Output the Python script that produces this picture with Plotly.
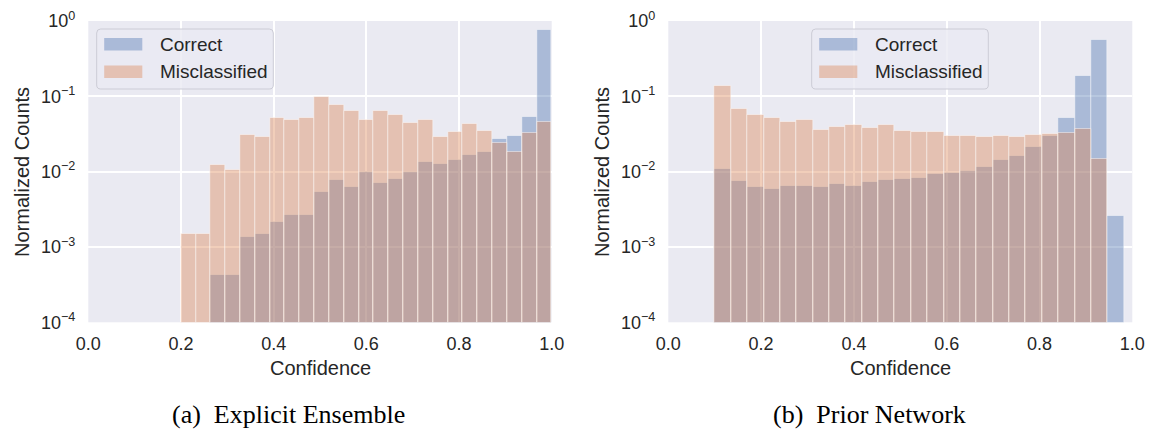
import numpy as np
import plotly.graph_objects as go

# ---- data -------------------------------------------------------------
# histogram bin grids over confidence
ens_edges = np.linspace(0.2, 1.0, 26)
pn_edges = np.linspace(0.1, 0.982, 26)

# (a) Explicit Ensemble: normalized counts per bin
ens_correct = [None, None, 4.2e-4, 4.2e-4, 1.37e-3, 1.49e-3, 2.13e-3, 2.66e-3,
               2.66e-3, 5.43e-3, 7.75e-3, 6.32e-3, 9.9e-3, 7.08e-3, 8.0e-3,
               1.0e-2, 1.34e-2, 1.25e-2, 1.43e-2, 1.66e-2, 1.84e-2, 2.69e-2,
               2.97e-2, 5.32e-2, 0.76]
ens_miscl = [1.49e-3, 1.49e-3, 1.23e-2, 1.05e-2, 3.07e-2, 2.92e-2, 5.21e-2,
             4.85e-2, 5.21e-2, 9.7e-2, 7.67e-2, 6.39e-2, 4.85e-2, 6.39e-2,
             5.65e-2, 4.38e-2, 4.85e-2, 2.92e-2, 3.36e-2, 4.29e-2, 3.5e-2,
             2.43e-2, 1.84e-2, 3.23e-2, 4.61e-2]

# (b) Prior Network: normalized counts per bin
pn_correct = [1.07e-2, 7.6e-3, 6.32e-3, 5.95e-3, 6.45e-3, 6.45e-3, 6.32e-3,
              6.86e-3, 6.45e-3, 7.3e-3, 7.67e-3, 8.07e-3, 8.32e-3, 9.22e-3,
              9.7e-3, 1.01e-2, 1.15e-2, 1.43e-2, 1.61e-2, 2.1e-2, 2.97e-2,
              5.1e-2, 0.184, 0.554, 2.6e-3]
pn_miscl = [0.137, 6.79e-2, 5.6e-2, 5.16e-2, 4.56e-2, 4.85e-2, 3.57e-2,
            3.96e-2, 4.21e-2, 3.8e-2, 4.12e-2, 3.47e-2, 3.36e-2, 3.36e-2,
            2.97e-2, 3.01e-2, 2.89e-2, 2.94e-2, 2.89e-2, 3.07e-2, 3.13e-2,
            3.3e-2, 3.65e-2, 1.47e-2, None]

series_names = ["Correct", "Misclassified"]
x_ticks = [0.0, 0.2, 0.4, 0.6, 0.8, 1.0]
y_ticks = [1e-4, 1e-3, 1e-2, 1e-1, 1e0]
y_ticktext = ["10<sup>\u22124</sup>", "10<sup>\u22123</sup>", "10<sup>\u22122</sup>",
              "10<sup>\u22121</sup>", "10<sup>0</sup>"]
captions = ["(a)\u2002Explicit Ensemble", "(b)\u2002Prior Network"]

# ---- style ------------------------------------------------------------
W, H = 1153, 432
BG = "#EAEAF2"
TXT = "rgb(38,38,38)"
SANS = "Liberation Sans, Arial, sans-serif"
SERIF = "Liberation Serif, Times New Roman, serif"
C_BLUE = "rgba(76,114,176,0.4)"
C_ORANGE = "rgba(221,132,82,0.4)"
EDGE = "rgba(255,255,255,0.45)"

# plot areas in pixels: (left, right), shared (top, bottom)
panels = [(88.3, 551.7), (668.3, 1132.3)]
top_px, bot_px = 21.0, 322.3
caption_cx = [288, 869.5]


def fx(p):
    return p / W


def fy(p):
    return 1 - p / H


fig = go.Figure()


def add_hist(edges, values, color, name, xa, ya):
    edges = np.asarray(edges)
    centers = (edges[:-1] + edges[1:]) / 2
    widths = np.diff(edges)
    fig.add_trace(go.Bar(
        x=centers, y=values, width=widths, name=name,
        marker=dict(color=color, line=dict(color=EDGE, width=1)),
        xaxis=xa, yaxis=ya, showlegend=False,
    ))


add_hist(ens_edges, ens_correct, C_BLUE, series_names[0], "x", "y")
add_hist(ens_edges, ens_miscl, C_ORANGE, series_names[1], "x", "y")
add_hist(pn_edges, pn_correct, C_BLUE, series_names[0], "x2", "y2")
add_hist(pn_edges, pn_miscl, C_ORANGE, series_names[1], "x2", "y2")

axis_common = dict(showline=False, zeroline=False, gridcolor="white",
                   gridwidth=1.5, ticks="", automargin=False)

for i, (l, r) in enumerate(panels):
    sfx = "" if i == 0 else str(i + 1)
    fig.layout["xaxis" + sfx] = dict(
        axis_common, domain=[fx(l), fx(r)], range=[0, 1],
        tickvals=x_ticks, ticktext=[f"{v:.1f}" for v in x_ticks],
        anchor="y" + sfx, ticklabelstandoff=9,
        tickfont=dict(family=SANS, size=18, color=TXT),
    )
    fig.layout["yaxis" + sfx] = dict(
        axis_common, domain=[fy(bot_px), fy(top_px)], type="log", range=[-4, 0],
        tickvals=y_ticks, ticktext=y_ticktext, anchor="x" + sfx,
        ticklabelstandoff=12,
        tickfont=dict(family=SANS, size=18, color=TXT),
    )

annotations = []
shapes = []

for i, (l, r) in enumerate(panels):
    # axis titles
    annotations.append(dict(
        text="Confidence", x=fx((l + r) / 2), y=fy(367.5), xref="paper", yref="paper",
        showarrow=False, xanchor="center", yanchor="middle",
        font=dict(family=SANS, size=20, color=TXT)))
    annotations.append(dict(
        text="Normalized Counts", x=fx(l - 67), y=fy((top_px + bot_px) / 2),
        xref="paper", yref="paper", showarrow=False, textangle=-90,
        xanchor="center", yanchor="middle",
        font=dict(family=SANS, size=20, color=TXT)))

# sub-figure captions
for cap, cx in zip(captions, caption_cx):
    annotations.append(dict(
        text=cap, x=fx(cx), y=fy(414.5), xref="paper", yref="paper",
        showarrow=False, xanchor="center", yanchor="middle",
        font=dict(family=SERIF, size=26, color="black")))


def rounded_rect(x0, y0, x1, y1, r):
    """SVG path (paper coords) of a rounded rectangle given in pixels."""
    X = lambda v: f"{fx(v):.6f}"
    Y = lambda v: f"{fy(v):.6f}"
    pts = [
        f"M {X(x0 + r)},{Y(y0)}",
        f"L {X(x1 - r)},{Y(y0)}",
        f"Q {X(x1)},{Y(y0)} {X(x1)},{Y(y0 + r)}",
        f"L {X(x1)},{Y(y1 - r)}",
        f"Q {X(x1)},{Y(y1)} {X(x1 - r)},{Y(y1)}",
        f"L {X(x0 + r)},{Y(y1)}",
        f"Q {X(x0)},{Y(y1)} {X(x0)},{Y(y1 - r)}",
        f"L {X(x0)},{Y(y0 + r)}",
        f"Q {X(x0)},{Y(y0)} {X(x0 + r)},{Y(y0)} Z",
    ]
    return " ".join(pts)


# legend boxes: upper left on (a), upper center on (b)
legend_left = [96.7, 811.7]
for lx in legend_left:
    shapes.append(dict(type="path", path=rounded_rect(lx, 29, lx + 176.6, 89, 4),
                       xref="paper", yref="paper",
                       fillcolor="rgba(234,234,242,0.8)",
                       line=dict(color="rgba(204,204,214,1)", width=1)))
    for j, (name, col) in enumerate(zip(series_names, [C_BLUE, C_ORANGE])):
        yc = 44.3 + j * 27.5
        shapes.append(dict(type="rect", xref="paper", yref="paper",
                           x0=fx(lx + 7.5), x1=fx(lx + 45.6),
                           y0=fy(yc + 6.2), y1=fy(yc - 6.2),
                           fillcolor=col, line=dict(width=0)))
        annotations.append(dict(
            text=name, x=fx(lx + 61.5), y=fy(yc), xref="paper", yref="paper",
            showarrow=False, xanchor="left", yanchor="middle",
            font=dict(family=SANS, size=19, color=TXT)))

fig.update_layout(
    width=W, height=H, margin=dict(l=0, r=0, t=0, b=0),
    paper_bgcolor="white", plot_bgcolor=BG,
    barmode="overlay", bargap=0,
    annotations=annotations, shapes=shapes,
    showlegend=False,
)

fig.write_html("out.html")
